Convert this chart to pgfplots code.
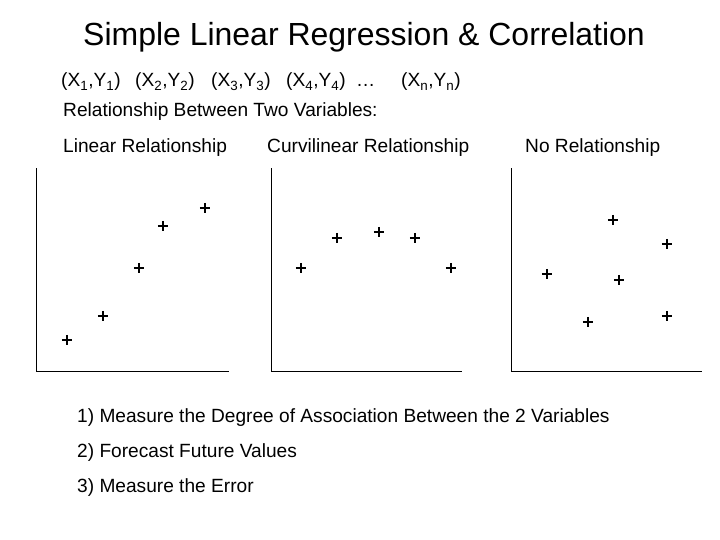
\documentclass[border=0pt]{standalone}
\usepackage{fontspec}
\setmainfont{Liberation Sans}
\usepackage{pgfplots}
\pgfplotsset{compat=1.18}
\begin{document}
\begin{tikzpicture}[x=1bp,y=1bp]
\path[fill=white] (0,0) rectangle (720,540);
\pgfplotsset{panel/.style={scale only axis, height=204bp, axis lines=left,
  axis line style={-,line width=1bp,black}, xtick=\empty, ytick=\empty,
  xmin=0, ymin=0, ymax=204, clip=false, anchor=south west},
  pts/.style={only marks, mark=+, mark size=5.2bp, black,
    every mark/.append style={line width=2.4bp, solid}}}
% Panel 1: linear
\begin{axis}[panel, width=193bp, xmax=193, at={(36bp,168bp)}]
\addplot[pts] coordinates {(31,32) (67,56) (103,104) (127,146) (169,164)};
\end{axis}
% Panel 2: curvilinear
\begin{axis}[panel, width=191bp, xmax=191, at={(271bp,168bp)}]
\addplot[pts] coordinates {(30,104) (66,134) (108,140) (144,134) (180,104)};
\end{axis}
% Panel 3: no relationship
\begin{axis}[panel, width=191bp, xmax=191, at={(511bp,168bp)}]
\addplot[pts] coordinates {(36,98) (77,50) (102,152) (108,92) (156,128) (156,56)};
\end{axis}
% Texts
\tikzset{t/.style={anchor=base west, inner sep=0, font=\fontsize{19.2}{23}\selectfont}}
\node[anchor=base west, inner sep=0, font=\fontsize{32.1}{38}\selectfont] at (83,494) {Simple Linear Regression \& Correlation};
\node[t] at (61,453) {(X\textsubscript{1},Y\textsubscript{1})};
\node[t] at (135,453) {(X\textsubscript{2},Y\textsubscript{2})};
\node[t] at (211,453) {(X\textsubscript{3},Y\textsubscript{3})};
\node[t] at (286,453) {(X\textsubscript{4},Y\textsubscript{4})};
\node[t] at (356,453) {\ldots};
\node[t] at (401,453) {(X\textsubscript{n},Y\textsubscript{n})};
\node[t] at (63,423) {Relationship Between Two Variables:};
\node[t] at (63,387) {Linear Relationship};
\node[t] at (267,387) {Curvilinear Relationship};
\node[t] at (525,387) {No Relationship};
\node[t] at (77,117) {1) Measure the Degree of Association Between the 2 Variables};
\node[t] at (77,82) {2) Forecast Future Values};
\node[t] at (77,47) {3) Measure the Error};
\end{tikzpicture}
\end{document}
